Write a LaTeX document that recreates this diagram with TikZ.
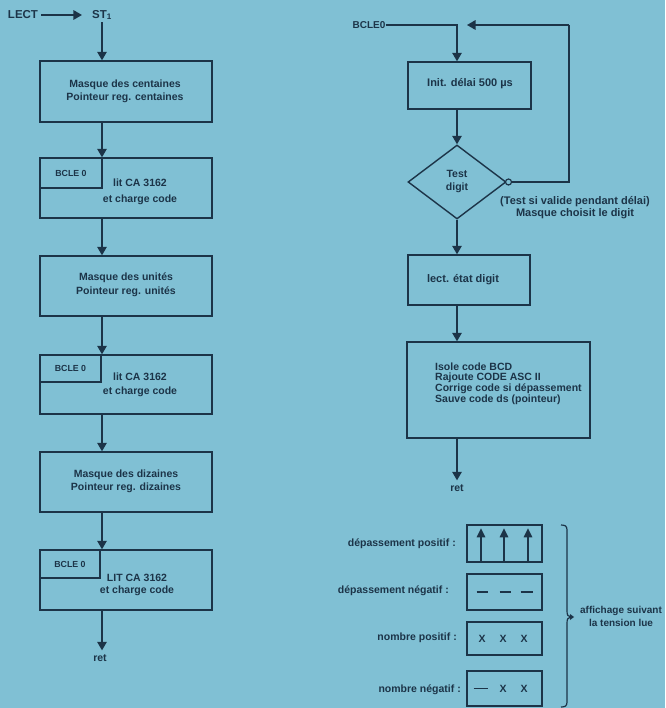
\documentclass[tikz,border=0pt]{standalone}
\usepackage{fontspec}
\setmainfont{Liberation Sans}
\usetikzlibrary{arrows.meta,shapes.geometric}
\definecolor{bg}{RGB}{128,192,212}
\definecolor{ink}{RGB}{28,52,72}
\begin{document}
\begin{tikzpicture}[x=1pt,y=-1pt,
  box/.style={draw=ink, line width=1.4pt, inner sep=0pt},
  txt/.style={font=\bfseries\fontsize{10.5}{13.5}\selectfont, text=ink, align=center, inner sep=0pt},
  small/.style={font=\bfseries\fontsize{8.8}{10}\selectfont, text=ink, inner sep=0pt},
  arr/.style={draw=ink, line width=1.4pt, -{Triangle[width=9.5pt,length=8.5pt]}},
  ln/.style={draw=ink, line width=1.4pt},
  digit/.style={txt, font=\bfseries\fontsize{10.5}{12}\selectfont},
]
\useasboundingbox (0,0) rectangle (665,708);
\fill[bg] (0,0) rectangle (665,708);

% ---------------- left column ----------------
\node[txt, font=\bfseries\fontsize{11.5}{12}\selectfont] (lect) at (23,15) {LECT};
\node[txt, font=\bfseries\fontsize{11.5}{12}\selectfont] (st) at (102,15) {ST\textsubscript{1}};
\draw[arr, shorten >=10pt] (lect.east) ++(3,0) coordinate (la) (la) -- (st.west);
\coordinate (col) at (102,0);

\node[box, minimum width=172, minimum height=61] (b1) at (126,91.5) {};
\node[txt] (t1) at (125,91.5) {Masque des centaines\\Pointeur reg. centaines};

\node[box, minimum width=172, minimum height=60] (b2) at (126,188) {};
\node[box, minimum width=62, minimum height=30] (i2) at (71,173) {};
\node[small] (l2) at (71,173) {BCLE 0};
\node[txt, font=\bfseries\fontsize{10.5}{16}\selectfont] (t2) at (140,192) {lit CA 3162\\et charge code};

\node[box, minimum width=172, minimum height=60] (b3) at (126,286) {};
\node[txt] (t3) at (126,285) {Masque des unités\\Pointeur reg. unités};

\node[box, minimum width=172, minimum height=59] (b4) at (126,384.5) {};
\node[box, minimum width=61, minimum height=27] (i4) at (70.5,368.5) {};
\node[small] (l4) at (70.5,368.5) {BCLE 0};
\node[txt, font=\bfseries\fontsize{10.5}{14}\selectfont] (t4) at (140,385) {lit CA 3162\\et charge code};

\node[box, minimum width=172, minimum height=60] (b5) at (126,482) {};
\node[txt] (t5) at (126,481.5) {Masque des dizaines\\Pointeur reg. dizaines};

\node[box, minimum width=172, minimum height=60] (b6) at (126,580) {};
\node[box, minimum width=60, minimum height=28] (i6) at (70,564) {};
\node[small] (l6) at (70,564) {BCLE 0};
\node[txt, font=\bfseries\fontsize{10.5}{12.5}\selectfont] (t6) at (137,585) {LIT CA 3162\\et charge code};

\node[txt] (ret1) at (100,658) {ret};

\draw[arr] (st.south -| col) ++(0,2) coordinate (sa) (sa) -- (b1.north -| col);
\draw[arr] (b1.south -| col) -- (b2.north -| col);
\draw[arr] (b2.south -| col) -- (b3.north -| col);
\draw[arr] (b3.south -| col) -- (b4.north -| col);
\draw[arr] (b4.south -| col) -- (b5.north -| col);
\draw[arr] (b5.south -| col) -- (b6.north -| col);
\draw[arr] (b6.south -| col) -- ([yshift=4]ret1.north -| col);

% ---------------- right column ----------------
\node[small, font=\bfseries\fontsize{10}{11}\selectfont] (bcle) at (369,25) {BCLE0};
\node[box, minimum width=123, minimum height=47] (init) at (469.5,85.5) {};
\node[txt, font=\bfseries\fontsize{11}{13}\selectfont] (tinit) at (470,84) {Init. délai 500 µs};
\node[diamond, box, minimum width=98, minimum height=74] (dg) at (457,182) {};
\node[txt, font=\bfseries\fontsize{10.5}{13}\selectfont] (tdg) at (457,181.5) {Test\\digit};
\node[circle, draw=ink, line width=1.2pt, fill=bg, minimum size=6pt, inner sep=0pt] (cc) at (508.5,182) {};
\node[txt, font=\bfseries\fontsize{11}{11.5}\selectfont] (note) at (575,207.5) {(Test si valide pendant délai)\\Masque choisit le digit};

\node[box, minimum width=122, minimum height=50] (lect2) at (469,280) {};
\node[txt, font=\bfseries\fontsize{11}{13}\selectfont] (tlect) at (463,280) {lect. état digit};

\node[box, minimum width=183, minimum height=96] (big) at (498.5,390) {};
\node[txt, align=left, anchor=west, font=\bfseries\fontsize{10.5}{10.8}\selectfont] (tbig) at (435,383.5) {Isole code BCD\\Rajoute CODE ASC II\\Corrige code si dépassement\\Sauve code ds (pointeur)};

\node[txt] (ret2) at (457,488) {ret};

\coordinate (lp1) at (569,182);
\coordinate (lp2) at (569,25);
\coordinate (lpt) at (467,25);
\draw[arr] (bcle.east) -| (init.north -| dg.north);
\draw[arr] (init.south -| dg.north) -- (dg.north);
\draw[ln] (cc.east) -- (lp1) -- (lp2);
\draw[arr] (lp2) -- (lpt);
\draw[arr] (dg.south) -- (lect2.north -| dg.south);
\draw[arr] (lect2.south -| dg.south) -- (big.north -| dg.south);
\draw[arr] (big.south -| dg.south) -- ([yshift=4]ret2.north);

% ---------------- display table ----------------
\node[box, minimum width=75, minimum height=37] (p1) at (504.5,543.5) {};
\node[box, minimum width=75, minimum height=36] (p2) at (504.5,592) {};
\node[box, minimum width=75, minimum height=33] (p3) at (504.5,638.5) {};
\node[box, minimum width=75, minimum height=35] (p4) at (504.5,688.5) {};

\node[txt, anchor=east] (q1) at (456,544) {dépassement positif :};
\node[txt, anchor=east] (q2) at (449,591) {dépassement négatif :};
\node[txt, anchor=east] (q3) at (457,638) {nombre positif :};
\node[txt, anchor=east] (q4) at (461,690) {nombre négatif :};

\foreach \dx in {-23.5,-0.5,23.5}{
  \draw[ln, line width=1.3pt, -{Triangle[width=8.5pt,length=9pt]}] ([xshift=\dx,yshift=2]p1.south) -- ([xshift=\dx,yshift=-4]p1.north);
}
\foreach \a/\b in {-28/-17,-5/6,16/28}{
  \draw[ln, line width=1.5pt] ([xshift=\a]p2.center) -- ([xshift=\b]p2.center);
}
\node[digit] (x31) at ([xshift=-22.5]p3.center) {X};
\node[digit] (x32) at ([xshift=-1.5]p3.center) {X};
\node[digit] (x33) at ([xshift=19.5]p3.center) {X};
\draw[ln, line width=1.5pt] ([xshift=-31]p4.center) -- ([xshift=-17]p4.center);
\node[digit] (x42) at ([xshift=-1.5]p4.center) {X};
\node[digit] (x43) at ([xshift=19.5]p4.center) {X};

% brace
\draw[ln, line width=1.2pt] (561,525) .. controls (565,525) and (567,526) .. (567,530) -- (567,611)
  .. controls (567,615) and (568,617) .. (571,617)
  .. controls (568,617) and (567,619) .. (567,623) -- (567,702)
  .. controls (567,706) and (565,707) .. (561,707);
\fill[ink] (570,614) -- (574,617) -- (570,620) -- cycle;
\node[txt, font=\bfseries\fontsize{10}{12.5}\selectfont] (aff) at (621,616.5) {affichage suivant\\la tension lue};
\end{tikzpicture}
\end{document}
